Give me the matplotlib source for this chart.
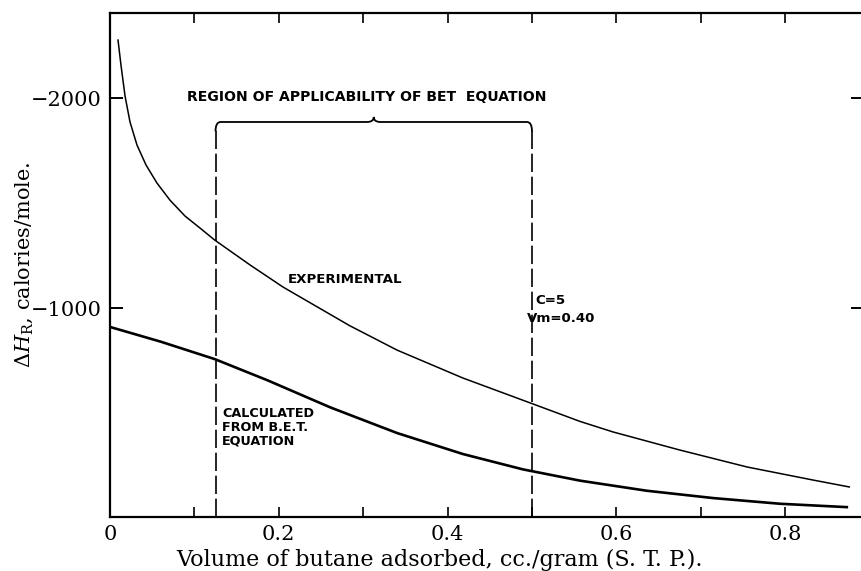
#!/usr/bin/env python3
"""plot.py -- heat of adsorption of butane, experimental vs. BET curve."""
import numpy as np

import matplotlib
matplotlib.use("Agg")
import matplotlib.pyplot as plt
from matplotlib.path import Path
from matplotlib.patches import PathPatch

plt.rcParams["mathtext.fontset"] = "custom"
plt.rcParams["mathtext.rm"] = "DejaVu Serif"
plt.rcParams["mathtext.it"] = "DejaVu Serif:italic"

# experimental curve
exp_x = [0.0095, 0.013, 0.0178, 0.0237, 0.032, 0.0427, 0.0557, 0.071, 0.0889,
         0.1066, 0.124, 0.166, 0.205, 0.284, 0.340, 0.418, 0.498, 0.557,
         0.596, 0.675, 0.755, 0.833, 0.876]
exp_y = [-2276, -2157, -2010, -1886, -1776, -1681, -1595, -1514, -1438,
         -1381, -1324, -1205, -1100, -916, -800, -667, -548, -460,
         -410, -324, -243, -181, -148]

# calculated from the BET equation
calc_x = [0.0, 0.06, 0.124, 0.186, 0.261, 0.340, 0.418, 0.489, 0.557,
          0.636, 0.715, 0.794, 0.873]
calc_y = [-910, -840, -757, -657, -527, -405, -305, -232, -178,
          -130, -95, -68, -52]

bet_region = [0.125, 0.5]
bracket_y = -1886

x_major = [0, 0.2, 0.4, 0.6, 0.8]
x_labels = ["0", "0.2", "0.4", "0.6", "0.8"]
y_major = [-2000, -1000]
y_labels = ["\u22122000", "\u22121000"]

SERIF = "DejaVu Serif"
LETTER = dict(family="DejaVu Sans", fontweight="bold", fontsize=9.6)

W, H = 861, 571
fig = plt.figure(figsize=(W / 100, H / 100), dpi=100)
left, right, top, bottom = 110, 863, 13, 517
ax = fig.add_axes([left / W, 1 - bottom / H, (right - left) / W, (bottom - top) / H])

ax.plot(exp_x, exp_y, color="black", lw=1.1, solid_joinstyle="round")
ax.plot(calc_x, calc_y, color="black", lw=1.9, solid_joinstyle="round")

# region of applicability: dashed verticals + curly bracket on top
ylo = -5
for xv in bet_region:
    ax.plot([xv, xv], [ylo, bracket_y + 40], color="black", lw=1.2,
            dashes=(11, 2.8))
x0, x1 = bet_region
xm = (x0 + x1) / 2
r = 0.006
verts = [(x0, bracket_y + 45), (x0, bracket_y), (x0 + r, bracket_y),
         (xm - 0.008, bracket_y), (xm, bracket_y), (xm, bracket_y - 24),
         (xm, bracket_y), (xm + 0.008, bracket_y),
         (x1 - r, bracket_y), (x1, bracket_y), (x1, bracket_y + 45)]
codes = [Path.MOVETO, Path.CURVE3, Path.CURVE3, Path.LINETO,
         Path.CURVE3, Path.CURVE3, Path.CURVE3, Path.CURVE3,
         Path.LINETO, Path.CURVE3, Path.CURVE3]
ax.add_patch(PathPatch(Path(verts, codes), fill=False, lw=1.3, color="black"))

ax.text(0.091, -2005, "REGION OF APPLICABILITY OF BET  EQUATION",
        ha="left", va="center", **{**LETTER, "fontsize": 10.1})
ax.text(0.211, -1138, "EXPERIMENTAL", ha="left", va="center", **LETTER)
ax.text(0.504, -1038, "C=5", ha="left", va="center", **LETTER)
ax.text(0.494, -952, "Vm=0.40", ha="left", va="center", **LETTER)
ax.text(0.133, -529, "CALCULATED\nFROM B.E.T.\nEQUATION", ha="left", va="top",
        linespacing=1.1, **{**LETTER, "fontsize": 9.2})

ax.set_xlim(0, (right - left) / 844)
ax.set_ylim(ylo, -2405)

ax.set_xticks(x_major)
ax.set_xticklabels(x_labels, family=SERIF, fontsize=15)
ax.set_xticks(np.arange(0.1, 0.9, 0.2), minor=True)
ax.set_yticks(y_major)
ax.set_yticklabels(y_labels, family=SERIF, fontsize=15)
ax.tick_params(which="both", direction="in", top=True, right=True,
               length=7, width=1.2)
ax.tick_params(axis="x", pad=6)
ax.tick_params(axis="y", length=9, width=1.4, pad=6)
for s in ax.spines.values():
    s.set_linewidth(1.6)

ax.set_xlabel("Volume of butane adsorbed, cc./gram (S. T. P.).",
              family=SERIF, fontsize=16)
ax.xaxis.set_label_coords(0.438, -0.064)
ax.set_ylabel(r"$\Delta H_{\rm R}$, calories/mole.", family=SERIF, fontsize=15)
ax.yaxis.set_label_coords(-0.1, 0.5)

fig.savefig("out.png", dpi=100)
